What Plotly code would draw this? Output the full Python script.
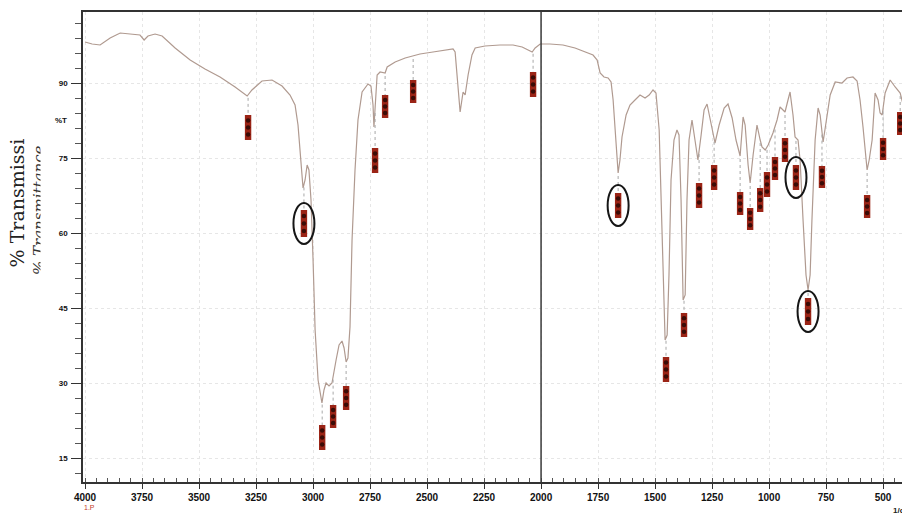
import numpy as np
import plotly.graph_objects as go

# ---- spectrum (wavenumber, %T) ----
wavenumber = [4000, 3969, 3934, 3890, 3846, 3803, 3759, 3741, 3724, 3693, 3662, 3605, 3539, 3474, 3408,
              3342, 3289, 3268, 3224, 3180, 3136, 3101, 3079, 3066, 3057, 3044, 3035, 3026, 3018, 3009,
              3000, 2991, 2978, 2965, 2961, 2952, 2943, 2930, 2917, 2899, 2886, 2873, 2864, 2855, 2847,
              2838, 2833, 2829, 2816, 2803, 2785, 2759, 2746, 2737, 2733, 2728, 2719, 2706, 2684, 2675,
              2640, 2596, 2561, 2531, 2474, 2421, 2386, 2377, 2368, 2360, 2355, 2346, 2342, 2333, 2320,
              2303, 2289, 2246, 2180, 2123, 2083, 2048, 2039, 2026, 2004, 1961, 1904, 1851, 1807, 1772,
              1754, 1741, 1724, 1706, 1693, 1684, 1675, 1667, 1662, 1654, 1645, 1627, 1610, 1588, 1566,
              1544, 1526, 1509, 1496, 1482, 1474, 1465, 1456, 1447, 1439, 1430, 1417, 1404, 1395, 1386,
              1377, 1368, 1360, 1351, 1338, 1325, 1312, 1298, 1285, 1272, 1254, 1237, 1219, 1197, 1180,
              1162, 1145, 1127, 1114, 1105, 1092, 1083, 1070, 1053, 1039, 1031, 1017, 1004, 983, 965,
              952, 939, 930, 917, 908, 895, 886, 873, 864, 851, 838, 829, 820, 812, 798,
              785, 776, 763, 750, 732, 710, 680, 658, 632, 614, 601, 588, 575, 570, 561,
              548, 535, 522, 513, 504, 491, 469, 447, 425, 403]
transmittance = [98.2, 97.8, 97.6, 99.0, 100.0, 99.8, 99.6, 98.6, 99.4, 99.8, 99.4, 97.0, 94.6, 92.8, 91.2,
                 89.2, 87.4, 88.6, 90.4, 90.6, 89.4, 87.6, 85.6, 81.6, 76.6, 69.0, 70.6, 73.6, 72.6, 66.6,
                 54.6, 40.6, 30.6, 26.6, 26.0, 28.6, 30.0, 29.4, 30.0, 34.6, 37.6, 38.4, 37.0, 34.2, 35.0,
                 41.2, 48.6, 58.6, 72.6, 82.6, 88.2, 89.8, 89.4, 85.6, 81.2, 84.6, 91.6, 92.2, 92.0, 93.2,
                 94.2, 95.0, 95.4, 95.8, 96.2, 96.6, 96.8, 96.2, 91.6, 86.6, 84.2, 87.0, 88.2, 87.6, 91.6,
                 95.6, 97.0, 97.4, 97.6, 97.6, 97.2, 96.4, 96.2, 97.0, 97.8, 97.8, 97.6, 97.0, 96.2, 95.6,
                 94.6, 92.0, 91.2, 91.0, 90.2, 86.6, 80.6, 74.6, 72.0, 74.6, 79.2, 83.6, 85.6, 86.6, 87.6,
                 87.0, 87.6, 88.6, 88.0, 80.6, 66.6, 48.6, 38.6, 39.6, 51.6, 70.6, 78.6, 80.6, 79.6, 66.6,
                 46.6, 47.6, 66.6, 78.6, 82.6, 78.6, 74.6, 79.6, 84.6, 85.8, 81.6, 78.0, 81.6, 85.0, 85.8,
                 83.0, 78.6, 75.4, 83.2, 81.6, 73.6, 70.0, 75.6, 81.6, 78.6, 77.2, 76.6, 77.6, 80.0, 82.6,
                 85.2, 84.6, 84.2, 86.6, 88.2, 83.6, 79.2, 78.6, 74.6, 62.6, 51.6, 48.6, 51.6, 62.6, 78.6,
                 85.0, 83.6, 78.2, 82.6, 87.6, 90.2, 90.0, 91.0, 91.2, 90.4, 86.6, 81.2, 73.6, 72.6, 74.6,
                 78.6, 88.0, 86.6, 84.0, 83.6, 88.0, 90.6, 89.2, 88.0, 84.0]

# ---- peak labels (wavenumber, label top / bottom in %T) ----
peak_wn = [3285, 3040, 2960, 2912, 2855, 2728, 2684, 2561, 2035, 1662, 1452, 1373, 1307, 1241,
           1127, 1083, 1039, 1009, 974, 930, 882, 829, 768, 570, 500, 425]
label_hi = [83.6, 64.6, 21.6, 25.6, 29.4, 77.0, 87.6, 90.6, 92.2, 68.0, 35.2, 44.0, 70.0, 73.6,
            68.2, 65.0, 69.0, 72.2, 75.2, 79.0, 73.6, 47.0, 73.4, 67.6, 79.0, 84.2]
label_lo = [78.6, 59.2, 16.6, 21.0, 24.6, 72.0, 83.0, 86.0, 87.2, 63.0, 30.2, 39.2, 65.0, 68.6,
            63.6, 60.6, 64.2, 67.2, 70.6, 74.2, 68.6, 41.6, 69.0, 63.0, 74.6, 79.6]
circled_peaks = [3040, 1662, 882, 829]

x_tick_step = 250
y_tick_step = 15
axis_split = 2000

assert len(wavenumber) == len(transmittance)

fig = go.Figure()

fig.add_trace(go.Scatter(x=wavenumber, y=transmittance, mode="lines",
                         line=dict(color="#b09a90", width=1.2), hoverinfo="skip"))

# dotted leader lines from curve to label
wn_inc = np.array(wavenumber[::-1], dtype=float)
t_inc = np.array(transmittance[::-1], dtype=float)
lx, ly = [], []
for w, hi in zip(peak_wn, label_hi):
    yc = float(np.interp(w, wn_inc, t_inc))
    lx += [w, w, None]
    ly += [yc - 0.6, hi, None]
fig.add_trace(go.Scatter(x=lx, y=ly, mode="lines",
                         line=dict(color="#a8a8a8", width=1, dash="dot"), hoverinfo="skip"))

shapes = []
for w, lo, hi in zip(peak_wn, label_lo, label_hi):
    shapes.append(dict(type="rect", xref="x", yref="y", x0=w + 14, x1=w - 14, y0=lo, y1=hi,
                       fillcolor="#9b2416", line=dict(width=0), layer="between"))

# dark blobs inside the labels (blurred digits)
dx, dy = [], []
for w, lo, hi in zip(peak_wn, label_lo, label_hi):
    for f in (0.22, 0.5, 0.78):
        dx.append(w)
        dy.append(lo + f * (hi - lo))
fig.add_trace(go.Scatter(x=dx, y=dy, mode="markers",
                         marker=dict(color="#3a0c07", size=4.5, line=dict(width=0)), hoverinfo="skip"))

for w in circled_peaks:
    i = peak_wn.index(w)
    mid = (label_lo[i] + label_hi[i]) / 2
    shapes.append(dict(type="circle", xref="x", yref="y", x0=w + 46, x1=w - 46,
                       y0=mid - 4.1, y1=mid + 4.1, line=dict(color="#161616", width=2)))

shapes.append(dict(type="line", xref="x", yref="paper", x0=axis_split, x1=axis_split, y0=0, y1=1,
                   line=dict(color="#3a3a3a", width=1.5)))

annotations = [
    dict(text="% Transmissi", textangle=-90, xref="paper", yref="paper", x=-0.0794, y=0.5947,
         showarrow=False, xanchor="center", yanchor="middle",
         font=dict(family="DejaVu Serif", size=19, color="#222")),
    dict(text="% Transmittance", textangle=-90, xref="paper", yref="paper", x=-0.0537, y=0.5787,
         showarrow=False, xanchor="center", yanchor="middle",
         font=dict(family="DejaVu Serif", size=15, color="#333", style="italic")),
    dict(text=" ", xref="paper", yref="paper", x=-0.0452, y=0.5787, showarrow=False,
         xanchor="center", yanchor="middle", width=10, height=170, bgcolor="white", borderpad=0),
    dict(text="%T", xref="paper", yref="y", x=-0.017, y=82.5, showarrow=False, xanchor="right",
         yanchor="middle", font=dict(family="Liberation Sans", size=8, color="#111", weight="bold")),
    dict(text="1.P", xref="paper", yref="paper", x=0.0085, y=-0.0553, showarrow=False,
         xanchor="center", yanchor="middle", font=dict(family="Liberation Sans", size=7, color="#c23a2a")),
    dict(text="1/cm", xref="paper", yref="paper", x=0.9866, y=-0.0617, showarrow=False,
         xanchor="left", yanchor="middle",
         font=dict(family="Liberation Sans", size=8, color="#222", weight="bold")),
]

fig.update_layout(
    width=902, height=520,
    margin=dict(l=83, r=0, t=12, b=38, autoexpand=False),
    plot_bgcolor="white", paper_bgcolor="white",
    showlegend=False,
    shapes=shapes, annotations=annotations,
    xaxis=dict(range=[4009, 417], tick0=0, dtick=x_tick_step, tickformat="d", automargin=False,
               showgrid=True, gridcolor="#e6e6e6", griddash="dot", gridwidth=1,
               zeroline=False, showline=True, linecolor="#333", linewidth=1.5, mirror=True,
               ticks="outside", ticklen=5, tickcolor="#333",
               tickfont=dict(family="Liberation Sans", size=10, color="#111", weight="bold"),
               minor=dict(dtick=50, tick0=0, ticks="inside", ticklen=4, tickcolor="#555", showgrid=False)),
    yaxis=dict(range=[10.2, 104.2], tick0=0, dtick=y_tick_step, automargin=False,
               showgrid=True, gridcolor="#e6e6e6", griddash="dot", gridwidth=1,
               zeroline=False, showline=True, linecolor="#333", linewidth=1.5,
               ticks="outside", ticklen=10, tickcolor="#333", ticklabelstandoff=2,
               tickfont=dict(family="Liberation Sans", size=8, color="#111", weight="bold"),
               minor=dict(dtick=3, tick0=0, ticks="outside", ticklen=6, tickcolor="#555", showgrid=False)),
)

fig.write_html("out.html", config={"displayModeBar": False},
               post_script="document.body.style.margin='0';document.body.style.overflow='hidden';")
